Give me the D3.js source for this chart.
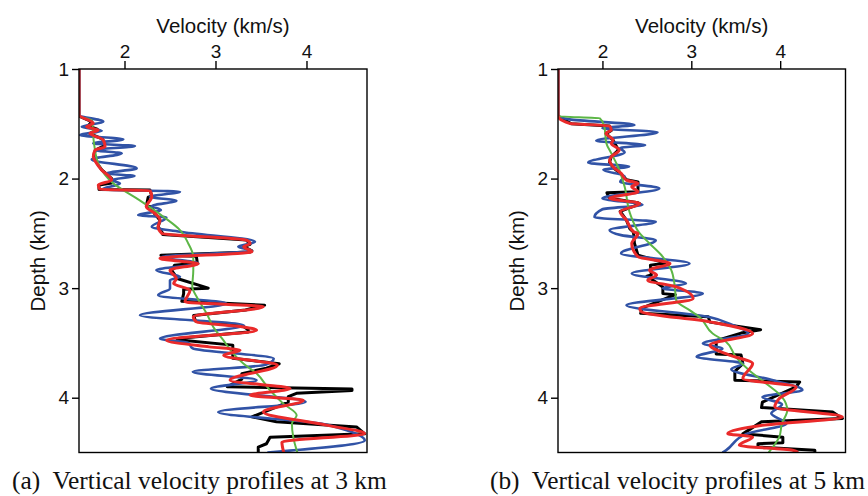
<!DOCTYPE html>
<html>
<head>
<meta charset="utf-8">
<style>
  body { margin: 0; background: #fff; }
  svg { display: block; }
</style>
<script src="https://cdn.jsdelivr.net/npm/d3@7"></script>
</head>
<body>
<svg id="chart" width="868" height="496"></svg>
<script>
// tick labels
const velTicks = [2, 3, 4];
const depthTicks = [1, 2, 3, 4];
const captions = ["(a)  Vertical velocity profiles at 3 km", "(b)  Vertical velocity profiles at 5 km"];

// profiles at 3 km, [depth km, velocity km/s]
const trueA = [[1.0,1.5],[1.43,1.5],[1.48,1.64],[1.52,1.60],[1.55,1.70],[1.59,1.62],[1.64,1.76],[1.70,1.78],[1.74,1.68],[1.80,1.66],[1.86,1.70],[1.92,1.75],[2.00,1.86],[2.04,1.86],[2.06,1.72],[2.10,1.72],[2.105,2.28],[2.16,2.30],[2.17,2.26],[2.25,2.24],[2.26,2.30],[2.32,2.33],[2.38,2.39],[2.44,2.37],[2.50,2.42],[2.51,2.42],[2.56,3.34],[2.60,3.38],[2.62,3.31],[2.66,3.40],[2.67,3.38],[2.70,2.40],[2.71,2.79],[2.77,2.80],[2.79,2.55],[2.84,2.52],[2.90,2.57],[2.91,2.57],[3.00,2.92],[3.01,2.65],[3.05,2.65],[3.12,2.63],[3.155,3.54],[3.20,3.33],[3.25,2.76],[3.30,2.78],[3.35,3.31],[3.38,3.36],[3.40,3.36],[3.46,2.58],[3.47,2.58],[3.52,3.19],[3.53,3.19],[3.64,3.19],[3.69,3.70],[3.73,3.56],[3.78,3.29],[3.83,3.29],[3.90,3.13],[3.92,4.50],[3.935,4.50],[3.96,3.89],[3.99,3.80],[4.04,3.80],[4.175,3.40],[4.22,3.67],[4.267,4.55],[4.33,4.64],[4.36,3.60],[4.42,3.56],[4.45,3.47],[4.50,3.47]];
const initA = [[1.0,1.5],[1.43,1.5],[1.466,1.64],[1.679,1.665],[1.861,1.712],[2.044,1.877],[2.181,2.134],[2.348,2.427],[2.47,2.61],[2.592,2.701],[2.714,2.756],[2.836,2.756],[2.988,2.745],[3.079,2.793],[3.232,2.903],[3.354,2.976],[3.475,3.086],[3.597,3.196],[3.688,3.306],[3.78,3.452],[3.932,3.599],[4.054,3.745],[4.16,3.892],[4.236,3.84],[4.48,3.892],[4.5,3.9]];
const blueA = [[1.0,1.5],[1.42,1.5],[1.481,1.767],[1.527,1.53],[1.563,1.75],[1.603,1.51],[1.642,1.987],[1.679,1.657],[1.703,2.115],[1.74,1.676],[1.77,1.97],[1.825,1.64],[1.907,2.134],[1.953,1.80],[1.977,2.11],[2.014,1.86],[2.044,1.95],[2.099,1.75],[2.12,2.61],[2.166,2.28],[2.202,2.57],[2.251,2.30],[2.288,2.40],[2.333,2.15],[2.355,2.46],[2.44,2.30],[2.485,2.61],[2.577,3.434],[2.622,3.25],[2.659,3.40],[2.714,2.41],[2.775,2.81],[2.836,2.35],[2.897,2.61],[2.927,2.50],[3.003,2.50],[3.064,2.37],[3.14,3.12],[3.247,2.17],[3.338,3.31],[3.46,2.39],[3.50,2.70],[3.55,2.75],[3.643,3.64],[3.70,3.55],[3.764,2.75],[3.84,3.45],[3.917,2.95],[4.038,3.99],[4.13,3.03],[4.236,4.16],[4.30,4.45],[4.39,4.64],[4.5,3.57]];
const redA = [[1.0,1.5],[1.42,1.5],[1.496,1.657],[1.527,1.584],[1.557,1.712],[1.587,1.62],[1.648,1.767],[1.709,1.786],[1.74,1.676],[1.80,1.657],[1.861,1.694],[1.922,1.749],[2.014,1.859],[2.059,1.712],[2.099,1.73],[2.11,2.28],[2.166,2.30],[2.257,2.24],[2.318,2.335],[2.379,2.39],[2.44,2.37],[2.50,2.41],[2.562,3.34],[2.592,3.38],[2.622,3.31],[2.668,3.40],[2.729,2.39],[2.76,2.68],[2.775,2.81],[2.836,2.50],[2.912,2.57],[2.958,2.54],[3.019,2.72],[3.125,2.665],[3.17,3.526],[3.262,2.756],[3.308,2.79],[3.354,3.306],[3.384,3.452],[3.475,2.463],[3.536,2.93],[3.567,3.27],[3.612,3.09],[3.704,3.68],[3.84,3.16],[3.917,3.82],[3.978,3.38],[4.023,3.965],[4.13,3.526],[4.25,4.22],[4.328,4.64],[4.404,3.73],[4.5,3.75]];

// profiles at 5 km
const trueB = [[1.0,1.5],[1.43,1.5],[1.50,1.65],[1.52,2.08],[1.56,2.10],[1.59,2.04],[1.65,2.12],[1.74,2.18],[1.80,2.10],[1.85,2.08],[1.90,2.12],[1.96,2.21],[2.01,2.27],[2.03,2.40],[2.12,2.40],[2.13,2.05],[2.18,2.08],[2.22,2.40],[2.23,2.42],[2.30,2.20],[2.38,2.27],[2.46,2.31],[2.49,2.35],[2.59,2.36],[2.70,2.40],[2.77,2.72],[2.79,2.54],[2.88,2.55],[2.89,2.50],[2.99,2.68],[3.05,2.68],[3.06,2.82],[3.18,2.45],[3.23,2.43],[3.26,3.19],[3.31,3.21],[3.38,3.78],[3.41,3.56],[3.48,3.28],[3.60,3.28],[3.61,3.56],[3.69,3.58],[3.76,3.49],[3.84,3.49],[3.856,4.22],[3.90,4.18],[4.04,3.80],[4.09,3.79],[4.13,4.59],[4.19,4.70],[4.22,3.79],[4.33,3.58],[4.36,4.03],[4.41,4.03],[4.42,3.75],[4.45,3.75],[4.48,4.39],[4.5,4.39]];
const initB = [[1.0,1.5],[1.43,1.5],[1.45,1.97],[1.52,2.02],[1.679,2.045],[1.77,2.10],[1.892,2.175],[2.075,2.25],[2.318,2.31],[2.50,2.42],[2.592,2.53],[2.714,2.68],[2.836,2.775],[2.958,2.81],[3.11,2.83],[3.201,2.98],[3.262,3.09],[3.414,3.24],[3.49,3.39],[3.627,3.50],[3.75,3.65],[3.87,3.84],[3.993,4.02],[4.115,4.08],[4.236,4.02],[4.358,3.99],[4.5,3.87]];
const blueB = [[1.0,1.5],[1.43,1.5],[1.46,1.63],[1.511,2.36],[1.54,2.0],[1.578,2.62],[1.654,1.93],[1.694,2.48],[1.72,2.2],[1.76,2.25],[1.855,1.84],[1.89,2.3],[1.92,2.01],[1.98,2.25],[2.03,2.2],[2.09,2.64],[2.18,2.00],[2.24,2.45],[2.28,2.0],[2.354,1.91],[2.394,2.60],[2.47,2.08],[2.516,2.21],[2.562,2.60],[2.683,2.21],[2.775,2.98],[2.866,2.33],[2.958,2.94],[3.00,2.68],[3.049,3.13],[3.156,2.27],[3.262,3.19],[3.338,3.47],[3.414,3.64],[3.505,3.13],[3.55,3.35],[3.627,3.06],[3.688,3.58],[3.74,3.45],[3.84,3.92],[3.93,4.25],[3.993,3.80],[4.06,4.02],[4.145,3.90],[4.236,4.07],[4.33,3.62],[4.48,3.39],[4.5,3.35]];
const redB = [[1.0,1.5],[1.43,1.5],[1.496,1.63],[1.52,2.08],[1.557,2.10],[1.587,2.04],[1.648,2.12],[1.679,2.10],[1.74,2.19],[1.80,2.10],[1.831,2.08],[1.892,2.12],[1.953,2.21],[2.014,2.27],[2.044,2.40],[2.074,2.33],[2.12,2.40],[2.18,2.08],[2.227,2.42],[2.303,2.20],[2.379,2.27],[2.485,2.35],[2.501,2.40],[2.592,2.33],[2.714,2.40],[2.775,2.76],[2.836,2.53],[2.88,2.61],[2.927,2.51],[2.988,2.83],[3.095,3.02],[3.186,2.42],[3.216,2.44],[3.308,3.21],[3.414,3.69],[3.52,3.21],[3.612,3.43],[3.688,3.69],[3.825,3.58],[3.902,4.18],[4.008,3.99],[4.084,3.94],[4.175,4.70],[4.252,3.80],[4.328,3.41],[4.358,3.69],[4.434,3.54],[4.48,4.14],[4.5,4.2]];

const svg = d3.select("#chart");
const plotTop = 69, plotBottom = 452.5;

const panels = [
  { left: 79, right: 367, vmax: 4.665, capX: 12, caption: captions[0], lines: [trueA, blueA, initA, redA] },
  { left: 558, right: 845.5, vmax: 4.735, capX: 490, caption: captions[1], lines: [trueB, blueB, initB, redB] }
];
const colors = ["#000000", "#3153a6", "#5cb646", "#ea2a2a"];
const widths = [3, 2.6, 2, 3];
const curves = [d3.curveLinear, d3.curveMonotoneY, d3.curveMonotoneY, d3.curveMonotoneY];

const y = d3.scaleLinear().domain([1, 4.5]).range([plotTop, plotBottom]);

panels.forEach((p, i) => {
  const x = d3.scaleLinear().domain([1.5, p.vmax]).range([p.left, p.right]);
  const g = svg.append("g");

  g.append("clipPath").attr("id", "clip" + i)
    .append("rect")
    .attr("x", p.left).attr("y", plotTop)
    .attr("width", p.right - p.left).attr("height", plotBottom - plotTop);

  const plot = g.append("g").attr("clip-path", `url(#clip${i})`);
  p.lines.forEach((data, k) => {
    const line = d3.line()
      .x(d => x(d[1]))
      .y(d => y(d[0]))
      .curve(curves[k]);
    plot.append("path")
      .datum(data)
      .attr("fill", "none")
      .attr("stroke", colors[k])
      .attr("stroke-width", widths[k])
      .attr("stroke-linejoin", "round")
      .attr("d", line);
  });

  g.append("rect")
    .attr("x", p.left).attr("y", plotTop)
    .attr("width", p.right - p.left).attr("height", plotBottom - plotTop)
    .attr("fill", "none").attr("stroke", "#000").attr("stroke-width", 1.4);

  const xAxis = g.append("g")
    .attr("transform", `translate(0, ${plotTop})`)
    .call(d3.axisTop(x).tickValues(velTicks).tickFormat(d3.format("d"))
      .tickSize(8).tickPadding(3).tickSizeOuter(0));
  const yAxis = g.append("g")
    .attr("transform", `translate(${p.left}, 0)`)
    .call(d3.axisLeft(y).tickValues(depthTicks).tickFormat(d3.format("d"))
      .tickSize(7).tickPadding(3).tickSizeOuter(0));

  [xAxis, yAxis].forEach(a => {
    a.select(".domain").remove();
    a.selectAll("line").attr("stroke", "#000").attr("stroke-width", 1.4);
    a.selectAll("text")
      .attr("fill", "#111")
      .style("font-family", "Liberation Sans, Arial, sans-serif")
      .style("font-size", "19px");
  });

  g.append("text")
    .attr("x", (p.left + p.right) / 2)
    .attr("y", 32.5)
    .attr("text-anchor", "middle")
    .style("font-family", "Liberation Sans, Arial, sans-serif")
    .style("font-size", "20.5px")
    .attr("fill", "#111")
    .text("Velocity (km/s)");

  g.append("text")
    .attr("transform", `translate(${p.left - 34}, ${(plotTop + plotBottom) / 2}) rotate(-90)`)
    .attr("text-anchor", "middle")
    .style("font-family", "Liberation Sans, Arial, sans-serif")
    .style("font-size", "20.5px")
    .attr("fill", "#111")
    .text("Depth (km)");

  const cap = g.append("text")
    .attr("x", p.capX)
    .attr("y", 489)
    .style("font-family", "Liberation Serif, DejaVu Serif, serif")
    .style("font-size", "24px")
    .attr("fill", "#111")
    .style("white-space", "pre")
    .text(p.caption);
  const w = cap.node().getComputedTextLength();
  cap.style("font-size", (24 * 375 / w).toFixed(2) + "px");
});
</script>
</body>
</html>
